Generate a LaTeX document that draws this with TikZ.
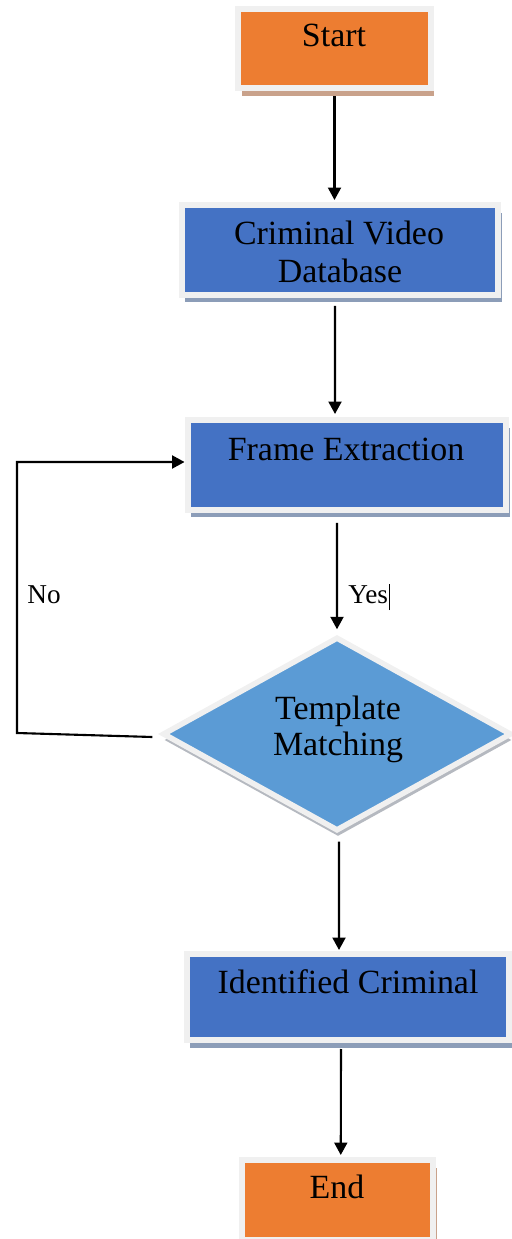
\documentclass[tikz,border=0pt]{standalone}
\usepackage{fontspec}
\setmainfont{Liberation Serif}
\usetikzlibrary{arrows.meta,shapes.geometric,shadows}

\definecolor{termorange}{HTML}{ED7D31}
\definecolor{procblue}{HTML}{4472C4}
\definecolor{decblue}{HTML}{5B9BD5}
\definecolor{rimgray}{HTML}{F0F0F0}
\definecolor{shadeblue}{HTML}{8C9DB8}
\definecolor{shadeorange}{HTML}{C9A28B}
\definecolor{shadegray}{HTML}{B5B9C0}

\tikzset{
  boxbase/.style={rectangle, draw=rimgray, line width=0.12cm, inner sep=0pt},
  terminal/.style={boxbase, fill=termorange,
    drop shadow={shadow xshift=0.07cm, shadow yshift=-0.15cm, fill=shadeorange, opacity=1}},
  process/.style={boxbase, fill=procblue,
    drop shadow={shadow xshift=0.07cm, shadow yshift=-0.15cm, fill=shadeblue, opacity=1}},
  decision/.style={diamond, draw=rimgray, line width=0.11cm, inner sep=0pt, fill=decblue,
    drop shadow={shadow xshift=0.02cm, shadow yshift=-0.12cm, fill=shadegray, opacity=1}},
  boxtext/.style={anchor=base, inner sep=0pt, font=\fontsize{19.3}{22}\selectfont},
  edgetext/.style={anchor=base west, inner sep=0pt, font=\fontsize{15.5}{18}\selectfont},
  flow/.style={line width=1.2pt, -{Triangle[length=0.25cm,width=0.26cm]}},
}

\begin{document}
\begin{tikzpicture}[x=0.02cm, y=-0.02cm]
\useasboundingbox (0,0) rectangle (511,1239);

% boxes of the flow
\node[terminal, minimum width=3.86cm, minimum height=1.59cm] (start) at (334.5,48.75) {};
\node[process, minimum width=6.34cm, minimum height=1.80cm] (cvd) at (340,250) {};
\node[process, minimum width=6.38cm, minimum height=1.80cm] (fe) at (347,465) {};
\node[decision, minimum width=6.98cm, minimum height=3.88cm] (tm) at (337,734) {};
\node[process, minimum width=6.46cm, minimum height=1.72cm] (ic) at (348,997) {};
\node[terminal, minimum width=3.83cm, minimum height=1.60cm] (end) at (337.75,1200) {};

% box captions
\node[boxtext] (starttxt) at (334,47) {Start};
\node[boxtext] (cvdtxt1) at (339,245) {Criminal Video};
\node[boxtext] (cvdtxt2) at (340,283) {Database};
\node[boxtext] (fetxt) at (346,460) {Frame Extraction};
\node[boxtext] (tmtxt1) at (338,719) {Template};
\node[boxtext] (tmtxt2) at (338,755) {Matching};
\node[boxtext] (ictxt) at (348,993) {Identified Criminal};
\node[boxtext] (endtxt) at (337,1198) {End};

% connectors
\draw[flow, shorten <=0.1cm, shorten >=0.04cm] (start.south) -- (start.south |- cvd.north);
\draw[flow, shorten <=0.16cm, shorten >=0.06cm] ([xshift=-0.1cm]cvd.south) -- ([xshift=-0.24cm]fe.north);
\draw[flow, shorten <=0.2cm, shorten >=0.1cm] ([xshift=-0.2cm]fe.south) -- (tm.north);
\draw[flow, shorten <=0.16cm, shorten >=0.02cm] ([xshift=0.04cm]tm.south) -- ([xshift=-0.18cm]ic.north);
\draw[flow, shorten <=0.12cm, shorten >=0.04cm] ([xshift=-0.14cm]ic.south) -- ([xshift=0.06cm]end.north);

% loop back when no match
\coordinate (loopbot) at (17,733);
\coordinate (looptop) at (17,462);
\draw[flow] ([xshift=-0.15cm,yshift=-0.06cm]tm.west) -- (loopbot) -- (looptop) -- (looptop -| fe.west);

% branch labels
\node[edgetext] (yes) at (348,603) {Yes\kern0.5pt\rule[-4pt]{0.5pt}{15pt}};
\node[edgetext] (no) at (27,603) {No};
\end{tikzpicture}
\end{document}
